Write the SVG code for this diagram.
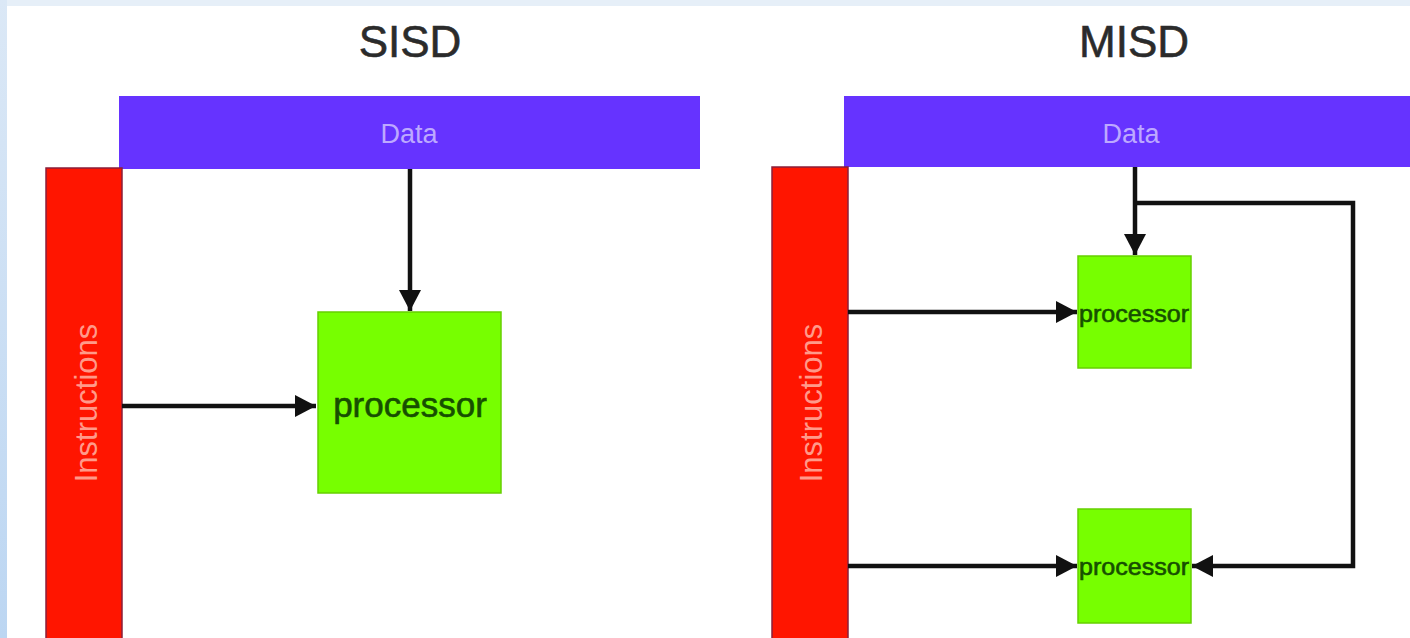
<svg xmlns="http://www.w3.org/2000/svg" width="1410" height="638" viewBox="0 0 1410 638">
  <defs>
    <linearGradient id="leftBg" x1="0" y1="0" x2="0" y2="1">
      <stop offset="0" stop-color="#dbe8f6"/>
      <stop offset="1" stop-color="#bcd6f2"/>
    </linearGradient>
    <marker id="arr" markerUnits="userSpaceOnUse" markerWidth="24" markerHeight="24" viewBox="0 0 24 24" refX="22" refY="12" orient="auto">
      <path d="M1,1 L22,12 L1,23 Z" fill="#111"/>
    </marker>
    <style>
      .title { font-family: "Liberation Sans", Arial, sans-serif; font-size: 44px; fill: #2b2b2b; stroke: #2b2b2b; stroke-width: 0.6; text-anchor: middle; }
      .data { fill: #6633ff; }
      .datatxt { font-family: "Liberation Sans", Arial, sans-serif; font-size: 27px; fill: #bda9ff; text-anchor: middle; }
      .instr { fill: #ff1500; stroke: #8a1f3a; stroke-width: 1.5; }
      .instrtxt { font-family: "Liberation Sans", Arial, sans-serif; font-size: 31px; fill: #ff9a8a; text-anchor: middle; }
      .proc { fill: #77ff00; stroke: #66d000; stroke-width: 1.5; }
      .proctxt { font-family: "Liberation Sans", Arial, sans-serif; fill: #164f00; stroke: #164f00; stroke-width: 0.6; text-anchor: middle; }
      .conn { fill: none; stroke: #111; stroke-width: 4.5; }
    </style>
  </defs>

  <rect x="0" y="0" width="1410" height="638" fill="#ffffff"/>
  <rect x="0" y="0" width="1410" height="6" fill="#e6eff8"/>
  <rect x="0" y="0" width="7" height="638" fill="url(#leftBg)"/>

  <text class="title" x="410" y="57">SISD</text>
  <text class="title" x="1134" y="57">MISD</text>

  <g id="sisd-data">
    <rect class="data" x="119" y="96" width="581" height="73"/>
    <text class="datatxt" x="409" y="143">Data</text>
  </g>
  <g id="sisd-instructions">
    <rect class="instr" x="46" y="168" width="76" height="472"/>
    <text class="instrtxt" transform="translate(97,403) rotate(-90)" x="0" y="0">Instructions</text>
  </g>
  <g id="sisd-processor">
    <rect class="proc" x="318" y="312" width="183" height="181"/>
    <text class="proctxt" x="410" y="417" font-size="35">processor</text>
  </g>

  <g id="misd-data">
    <rect class="data" x="844" y="96" width="570" height="71"/>
    <text class="datatxt" x="1131" y="143">Data</text>
  </g>
  <g id="misd-instructions">
    <rect class="instr" x="772" y="167" width="76" height="473"/>
    <text class="instrtxt" transform="translate(822,403) rotate(-90)" x="0" y="0">Instructions</text>
  </g>
  <g id="misd-processor-1">
    <rect class="proc" x="1078" y="256" width="113" height="112"/>
    <text class="proctxt" x="1134" y="322" font-size="24" textLength="110" lengthAdjust="spacingAndGlyphs">processor</text>
  </g>
  <g id="misd-processor-2">
    <rect class="proc" x="1078" y="509" width="113" height="114"/>
    <text class="proctxt" x="1134" y="575" font-size="24" textLength="110" lengthAdjust="spacingAndGlyphs">processor</text>
  </g>

  <g id="connectors">
    <path class="conn" d="M122,406 H316" marker-end="url(#arr)"/>
    <path class="conn" d="M410,169 V311" marker-end="url(#arr)"/>
    <path class="conn" d="M848,312 H1077" marker-end="url(#arr)"/>
    <path class="conn" d="M848,566 H1077" marker-end="url(#arr)"/>
    <path class="conn" d="M1135,167 V255" marker-end="url(#arr)"/>
    <path class="conn" d="M1135,203 H1353 V566 H1192" marker-end="url(#arr)"/>
  </g>
</svg>
